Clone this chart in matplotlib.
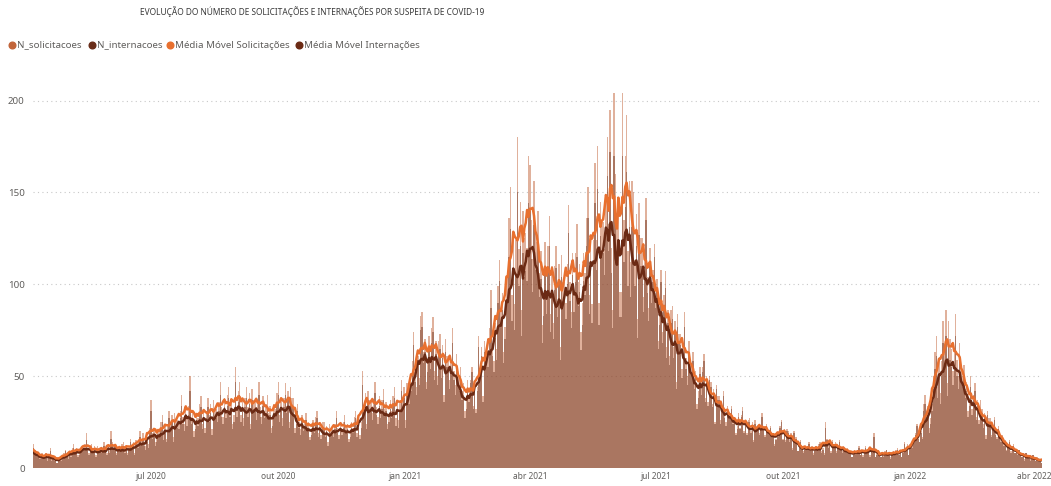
import matplotlib
matplotlib.use('Agg')
import matplotlib.pyplot as plt
from matplotlib.lines import Line2D
import pandas as pd

plt.rcParams['font.family'] = ['Noto Sans', 'DejaVu Sans']

# daily values, one row per week, starting 2020-04-07
start_date = '2020-04-07'
solicitacoes = [
    13, 10, 8, 8, 6, 6, 8,
    6, 7, 8, 5, 7, 11, 5,
    7, 5, 6, 3, 6, 5, 5,
    6, 8, 10, 7, 6, 8, 7,
    11, 13, 9, 11, 7, 8, 11,
    10, 12, 13, 19, 11, 8, 10,
    13, 9, 12, 7, 12, 10, 10,
    9, 11, 14, 10, 8, 12, 9,
    20, 14, 11, 13, 8, 10, 12,
    10, 13, 14, 9, 12, 8, 11,
    16, 12, 14, 8, 15, 13, 13,
    20, 15, 19, 14, 12, 16, 13,
    22, 37, 19, 21, 14, 16, 20,
    20, 25, 29, 18, 23, 16, 23,
    31, 23, 29, 17, 30, 26, 26,
    25, 31, 40, 28, 24, 32, 27,
    34, 50, 28, 31, 20, 24, 30,
    27, 35, 39, 24, 32, 22, 31,
    38, 29, 35, 21, 37, 32, 32,
    29, 36, 47, 33, 28, 38, 31,
    40, 44, 33, 37, 24, 29, 55,
    33, 42, 47, 29, 38, 27, 38,
    44, 33, 41, 24, 43, 37, 37,
    30, 37, 47, 33, 28, 39, 31,
    35, 40, 30, 34, 22, 27, 35,
    32, 41, 47, 29, 38, 27, 38,
    46, 34, 42, 25, 44, 38, 38,
    22, 27, 35, 25, 21, 29, 23,
    26, 30, 23, 25, 17, 20, 26,
    22, 28, 31, 19, 25, 18, 25,
    25, 19, 23, 14, 24, 21, 21,
    20, 24, 31, 22, 18, 25, 21,
    25, 29, 22, 24, 16, 20, 25,
    22, 28, 31, 19, 25, 18, 25,
    53, 33, 41, 24, 42, 37, 37,
    30, 37, 47, 33, 28, 39, 31,
    37, 43, 32, 36, 24, 29, 37,
    31, 39, 44, 27, 36, 26, 36,
    48, 36, 44, 26, 46, 40, 40,
    47, 58, 74, 52, 44, 61, 49,
    83, 85, 63, 70, 47, 57, 72,
    59, 76, 82, 53, 69, 50, 69,
    73, 55, 67, 40, 70, 61, 61,
    48, 59, 76, 53, 45, 62, 50,
    48, 55, 42, 46, 31, 37, 48,
    38, 48, 55, 34, 44, 32, 44,
    72, 54, 66, 39, 69, 60, 60,
    61, 76, 97, 68, 58, 79, 65,
    99, 113, 86, 95, 63, 77, 99,
    106, 136, 153, 94, 124, 89, 124,
    180, 119, 145, 86, 140, 125, 128,
    120, 170, 165, 135, 114, 156, 128,
    123, 140, 106, 118, 78, 95, 123,
    95, 121, 137, 84, 110, 79, 110,
    121, 91, 111, 66, 116, 101, 101,
    90, 111, 143, 101, 85, 117, 95,
    117, 133, 101, 111, 74, 90, 117,
    106, 136, 153, 94, 124, 89, 124,
    166, 124, 175, 90, 145, 132, 134,
    119, 147, 180, 133, 195, 120, 86,
    204, 160, 130, 140, 96, 96, 204,
    135, 170, 192, 118, 156, 112, 156,
    150, 113, 138, 81, 144, 125, 125,
    93, 114, 147, 104, 87, 120, 98,
    108, 122, 93, 103, 69, 83, 108,
    74, 94, 107, 66, 86, 61, 86,
    88, 66, 80, 47, 84, 73, 73,
    54, 66, 85, 60, 50, 69, 57,
    55, 63, 47, 53, 35, 42, 55,
    43, 55, 62, 38, 50, 36, 50,
    47, 35, 43, 25, 45, 39, 39,
    26, 33, 42, 29, 25, 34, 28,
    30, 34, 26, 28, 19, 23, 30,
    22, 29, 33, 20, 26, 19, 26,
    27, 20, 25, 15, 26, 22, 23,
    19, 23, 30, 21, 18, 24, 19,
    20, 23, 18, 19, 13, 16, 20,
    18, 23, 26, 16, 21, 15, 21,
    20, 15, 19, 11, 20, 17, 17,
    9, 12, 15, 10, 9, 12, 10,
    12, 14, 10, 12, 8, 9, 12,
    11, 13, 14, 9, 11, 8, 25,
    16, 12, 15, 9, 15, 13, 14,
    9, 12, 15, 10, 9, 12, 10,
    10, 11, 9, 9, 6, 8, 10,
    8, 10, 12, 7, 9, 7, 10,
    12, 9, 11, 7, 11, 9, 19,
    6, 8, 10, 7, 6, 8, 7,
    9, 10, 8, 8, 6, 7, 9,
    8, 10, 11, 7, 9, 6, 9,
    14, 10, 13, 7, 13, 12, 12,
    15, 19, 24, 17, 14, 20, 17,
    35, 40, 30, 34, 22, 27, 35,
    50, 63, 72, 44, 58, 41, 58,
    80, 63, 86, 46, 80, 70, 65,
    53, 65, 84, 59, 50, 68, 55,
    50, 56, 43, 47, 31, 38, 50,
    32, 40, 46, 28, 37, 26, 37,
    32, 24, 30, 18, 31, 27, 27,
    18, 22, 28, 20, 17, 23, 19,
    15, 18, 13, 15, 10, 12, 15,
    9, 12, 13, 8, 10, 8, 10,
    8, 6, 8, 5, 8, 7, 7,
    5, 6, 7, 5, 4, 6, 5,
    4, 3,
]
internacoes = [
    11, 8, 7, 7, 5, 5, 7,
    5, 6, 7, 4, 6, 9, 4,
    6, 4, 5, 3, 5, 4, 4,
    5, 7, 9, 6, 5, 7, 6,
    9, 11, 8, 9, 6, 7, 10,
    9, 10, 11, 15, 10, 7, 9,
    11, 8, 10, 6, 10, 9, 9,
    8, 9, 12, 9, 7, 10, 8,
    16, 12, 10, 11, 7, 9, 10,
    9, 11, 12, 8, 10, 7, 10,
    14, 10, 12, 7, 13, 11, 11,
    17, 13, 16, 12, 10, 14, 11,
    19, 31, 16, 18, 12, 14, 17,
    17, 21, 25, 15, 20, 14, 20,
    27, 20, 25, 14, 26, 22, 22,
    21, 27, 34, 24, 20, 28, 23,
    29, 42, 24, 27, 17, 21, 26,
    23, 30, 33, 21, 27, 19, 27,
    33, 25, 30, 18, 32, 27, 27,
    25, 31, 40, 28, 24, 33, 27,
    34, 38, 28, 32, 21, 25, 47,
    28, 36, 40, 25, 33, 23, 33,
    38, 28, 35, 21, 37, 32, 32,
    26, 32, 40, 28, 24, 34, 27,
    30, 34, 26, 29, 19, 23, 30,
    28, 35, 40, 25, 33, 23, 33,
    40, 30, 37, 22, 38, 33, 33,
    19, 24, 31, 22, 18, 26, 20,
    23, 26, 20, 22, 15, 18, 23,
    19, 25, 27, 17, 22, 16, 22,
    22, 17, 20, 12, 21, 18, 18,
    17, 21, 27, 19, 16, 22, 18,
    22, 25, 19, 21, 14, 17, 22,
    19, 24, 27, 17, 22, 16, 22,
    45, 29, 36, 21, 37, 32, 32,
    26, 32, 41, 29, 24, 34, 27,
    32, 37, 28, 31, 21, 25, 32,
    27, 34, 38, 23, 31, 22, 31,
    42, 31, 38, 22, 40, 35, 35,
    42, 52, 67, 47, 40, 56, 45,
    75, 77, 57, 63, 43, 52, 65,
    54, 68, 74, 48, 62, 45, 62,
    65, 49, 60, 36, 63, 55, 55,
    43, 53, 68, 48, 40, 56, 45,
    42, 48, 37, 40, 27, 32, 42,
    36, 46, 52, 32, 42, 30, 42,
    66, 50, 61, 36, 63, 55, 55,
    55, 68, 87, 61, 52, 71, 59,
    90, 102, 78, 86, 57, 70, 90,
    90, 115, 130, 80, 105, 75, 105,
    150, 99, 121, 72, 117, 104, 107,
    102, 144, 140, 114, 96, 132, 108,
    108, 122, 93, 103, 68, 83, 108,
    84, 107, 121, 74, 97, 70, 97,
    109, 82, 100, 59, 104, 91, 91,
    81, 100, 128, 91, 76, 105, 85,
    101, 115, 88, 96, 64, 78, 102,
    94, 121, 136, 84, 110, 79, 110,
    144, 108, 152, 78, 126, 115, 117,
    105, 130, 159, 118, 172, 106, 76,
    170, 136, 110, 118, 82, 82, 170,
    112, 142, 161, 99, 131, 93, 131,
    132, 99, 121, 71, 127, 110, 110,
    85, 105, 135, 95, 80, 110, 90,
    101, 115, 87, 97, 65, 78, 101,
    68, 86, 98, 60, 79, 56, 79,
    81, 60, 73, 43, 77, 68, 67,
    49, 60, 77, 54, 45, 62, 52,
    51, 58, 43, 49, 32, 38, 51,
    40, 52, 58, 36, 47, 34, 48,
    44, 33, 41, 24, 43, 37, 37,
    24, 31, 39, 27, 23, 32, 27,
    28, 32, 24, 27, 18, 21, 28,
    21, 28, 31, 19, 25, 18, 25,
    25, 19, 23, 14, 24, 21, 21,
    18, 22, 28, 20, 17, 23, 19,
    19, 22, 17, 18, 12, 15, 19,
    17, 22, 25, 15, 20, 14, 20,
    19, 14, 18, 10, 19, 16, 16,
    9, 11, 14, 10, 8, 11, 10,
    11, 13, 10, 11, 7, 9, 11,
    10, 12, 13, 8, 10, 7, 22,
    15, 11, 14, 8, 14, 12, 13,
    8, 11, 14, 10, 8, 11, 9,
    9, 10, 8, 9, 6, 7, 9,
    7, 9, 11, 7, 9, 6, 9,
    11, 8, 10, 6, 10, 8, 17,
    6, 7, 9, 7, 6, 8, 6,
    8, 10, 7, 8, 5, 7, 8,
    7, 9, 10, 7, 9, 6, 8,
    13, 10, 12, 7, 12, 11, 11,
    14, 18, 23, 16, 14, 19, 16,
    31, 35, 27, 30, 19, 24, 31,
    43, 54, 61, 38, 50, 35, 50,
    68, 53, 72, 39, 67, 59, 55,
    45, 56, 72, 50, 43, 58, 47,
    44, 50, 38, 42, 28, 34, 44,
    29, 37, 42, 26, 34, 24, 32,
    30, 22, 28, 16, 29, 25, 25,
    17, 21, 26, 18, 16, 21, 18,
    14, 17, 12, 14, 9, 11, 14,
    8, 11, 12, 8, 10, 7, 10,
    8, 6, 7, 4, 8, 6, 7,
    4, 5, 7, 5, 4, 5, 5,
    4, 3,
]

tick_dates = ['2020-07-01', '2020-10-01', '2021-01-01', '2021-04-01',
              '2021-07-01', '2021-10-01', '2022-01-01', '2022-04-01']
tick_labels = ['jul 2020', 'out 2020', 'jan 2021', 'abr 2021',
               'jul 2021', 'out 2021', 'jan 2022', 'abr 2022']
y_ticks = [0, 50, 100, 150, 200]
legend_labels = ['N_solicitacoes', 'N_internacoes',
                 'Média Móvel Solicitações', 'Média Móvel Internações']
title = 'EVOLUÇÃO DO NÚMERO DE SOLICITAÇÕES E INTERNAÇÕES POR SUSPEITA DE COVID-19'

C_SOL = '#c2653a'
C_INT = '#6a2e1a'
C_MMS = '#e8702f'
C_MMI = '#6b2a14'

dates = pd.date_range(start_date, periods=len(solicitacoes), freq='D')
df = pd.DataFrame({'sol': solicitacoes, 'int': internacoes}, index=dates)
mm_sol = df['sol'].rolling(7, center=True, min_periods=1).mean()
mm_int = df['int'].rolling(7, center=True, min_periods=1).mean()

fig = plt.figure(figsize=(10.51, 4.86), dpi=100)
ax = fig.add_axes([0.0314, 0.037, 0.96, 0.794])

for v in y_ticks[1:]:
    ax.axhline(v, color='#c8c8c8', lw=0.8, ls=(0, (1, 3)), zorder=0)

ax.bar(dates, df['sol'], width=1.0, color=C_SOL, alpha=0.5, linewidth=0, zorder=2)
ax.bar(dates, df['int'], width=1.0, color=C_INT, alpha=0.45, linewidth=0, zorder=3)
ax.plot(dates, mm_int, color=C_MMI, lw=1.8, zorder=4)
ax.plot(dates, mm_sol, color=C_MMS, lw=1.8, zorder=5)

ax.set_ylim(0, 210)
ax.set_xlim(dates[0] - pd.Timedelta(hours=12), dates[-1] + pd.Timedelta(hours=12))
ax.set_yticks(y_ticks)
ax.set_xticks(pd.to_datetime(tick_dates))
ax.set_xticklabels(tick_labels)
for s in ax.spines.values():
    s.set_visible(False)
ax.tick_params(axis='y', length=0, labelsize=7, colors='#605e5c', pad=6)
ax.tick_params(axis='x', length=0, labelsize=6, colors='#605e5c', pad=3)

fig.text(140 / 1051, 1 - 12 / 486, title, ha='left', va='center',
         fontsize=6, fontweight='bold', color='#3a3a3a')

legend_colors = [C_SOL, C_INT, C_MMS, C_MMI]
dot_x = [12, 92, 170, 299]
ly = 1 - 45 / 486
for x, c, lab in zip(dot_x, legend_colors, legend_labels):
    fig.add_artist(Line2D([x / 1051], [ly], marker='o', markersize=4.8, color=c,
                          transform=fig.transFigure))
    fig.text((x + 5) / 1051, ly, lab, ha='left', va='center', fontsize=7,
             color='#605e5c')

fig.savefig('out.png', dpi=100)
